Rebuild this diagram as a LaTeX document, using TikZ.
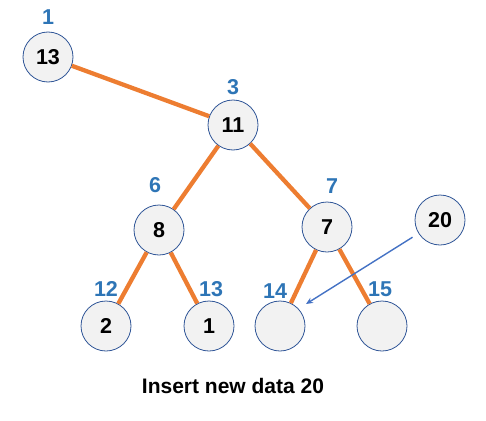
\documentclass[tikz,border=0pt]{standalone}
\usepackage{fontspec}
\setmainfont{Liberation Sans}
\usetikzlibrary{arrows.meta}
\definecolor{edgeor}{HTML}{ED7D31}
\definecolor{lblblue}{HTML}{2E75B6}
\definecolor{circfill}{HTML}{F2F2F2}
\definecolor{circline}{HTML}{2F5597}
\definecolor{arrblue}{HTML}{4472C4}
\begin{document}
\begin{tikzpicture}[x=1pt,y=-1pt,
  heapnode/.style={circle,draw=circline,line width=0.8pt,fill=circfill,minimum size=50pt,inner sep=0pt,font=\bfseries\fontsize{21.5}{21.5}\selectfont},
  idx/.style={text=lblblue,font=\bfseries\fontsize{21.5}{21.5}\selectfont,inner sep=0pt},
  heapedge/.style={draw=edgeor,line width=4.3pt},
  insarrow/.style={draw=arrblue,line width=1.4pt,-{Stealth[length=7pt,width=6pt]}}]
\useasboundingbox (0,0) rectangle (486,420);
\node[heapnode] (n1) at (48,57) {13};
\node[heapnode] (n3) at (233,125) {11};
\node[heapnode] (n6) at (159,230) {8};
\node[heapnode] (n7) at (327,227) {7};
\node[heapnode] (n12) at (106,326) {2};
\node[heapnode] (n13) at (209,326) {1};
\node[heapnode] (n14) at (280,326) {};
\node[heapnode] (n15) at (382,326) {};
\node[heapnode] (n20) at (440,220) {20};
\node[idx] (l1) at (48,17) {1};
\node[idx] (l3) at (233,87) {3};
\node[idx] (l6) at (155,185) {6};
\node[idx] (l7) at (332,186) {7};
\node[idx] (l12) at (106,289) {12};
\node[idx] (l13) at (211,289) {13};
\node[idx] (l14) at (275,291) {14};
\node[idx] (l15) at (380,289) {15};
\node[font=\bfseries\fontsize{21}{21}\selectfont] (title) at (233,386) {Insert new data 20};
\draw[heapedge] (n1) -- (n3);
\draw[heapedge] (n3) -- (n6);
\draw[heapedge] (n3) -- (n7);
\draw[heapedge] (n6) -- (n12);
\draw[heapedge] (n6) -- (n13);
\draw[heapedge] (n7) -- (n14);
\draw[heapedge] (n7) -- (n15);
\coordinate (arrend) at (306,304);
\draw[insarrow, shorten <=7pt] (n20) -- (arrend);
\end{tikzpicture}
\end{document}
